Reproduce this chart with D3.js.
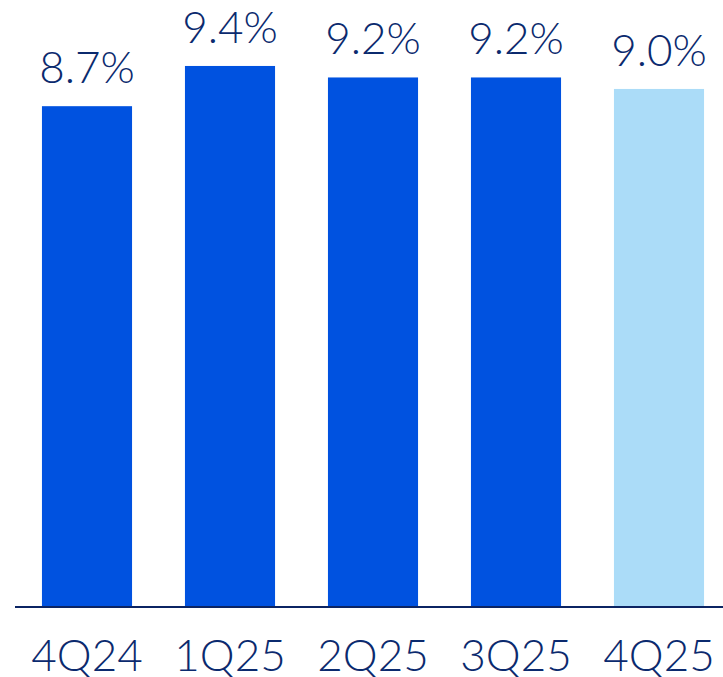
<!DOCTYPE html>
<html>
<head>
<meta charset="utf-8">
<script src="https://cdn.jsdelivr.net/npm/d3@7"></script>
<style>
  body { margin: 0; background: #fff; }
  text { font-family: Lato, "Open Sans", sans-serif; font-weight: 300; fill: #0b2a6e; }
</style>
</head>
<body>
<svg id="plot" width="723" height="677"></svg>
<script>
// data
let quarters = ["4Q24", "1Q25", "2Q25", "3Q25", "4Q25"];
let values = [8.7, 9.4, 9.2, 9.2, 9.0];
let labels = ["8.7%", "9.4%", "9.2%", "9.2%", "9.0%"];

let svg = d3.select("#plot");
let baseline = 606;

// scales
let x_scale = d3.scaleBand(quarters, [15.5, 730.5]).paddingInner(0.37).paddingOuter(0.185);
let y_scale = d3.scaleLinear([0, 10], [baseline, 31.5]);

let bar_color = (d, i) => i == quarters.length - 1 ? "#abdcf8" : "#0052e0";

// bars
svg.append("g").selectAll("rect")
  .data(values)
  .join("rect")
  .attr("x", (d, i) => x_scale(quarters[i]))
  .attr("y", d => y_scale(d))
  .attr("width", x_scale.bandwidth())
  .attr("height", d => baseline - y_scale(d))
  .attr("fill", bar_color);

// value labels above bars
svg.append("g").selectAll("text")
  .data(values)
  .join("text")
  .attr("x", (d, i) => x_scale(quarters[i]) + x_scale.bandwidth() / 2)
  .attr("y", d => y_scale(d) - 23)
  .attr("text-anchor", "middle")
  .attr("font-size", 44)
  .text((d, i) => labels[i]);

// x axis
let xAxis = d3.axisBottom(x_scale).tickSize(0).tickPadding(33);
let x_ax = svg.append("g")
  .attr("transform", `translate(0,${baseline + 1})`)
  .call(xAxis);
x_ax.select(".domain").attr("stroke", "#0b2463").attr("stroke-width", 2).attr("d", "M15,0H723");
x_ax.selectAll(".tick text").attr("font-size", 44).attr("font-family", "Lato, 'Open Sans', sans-serif").attr("fill", "#0b2a6e");
</script>
</body>
</html>
